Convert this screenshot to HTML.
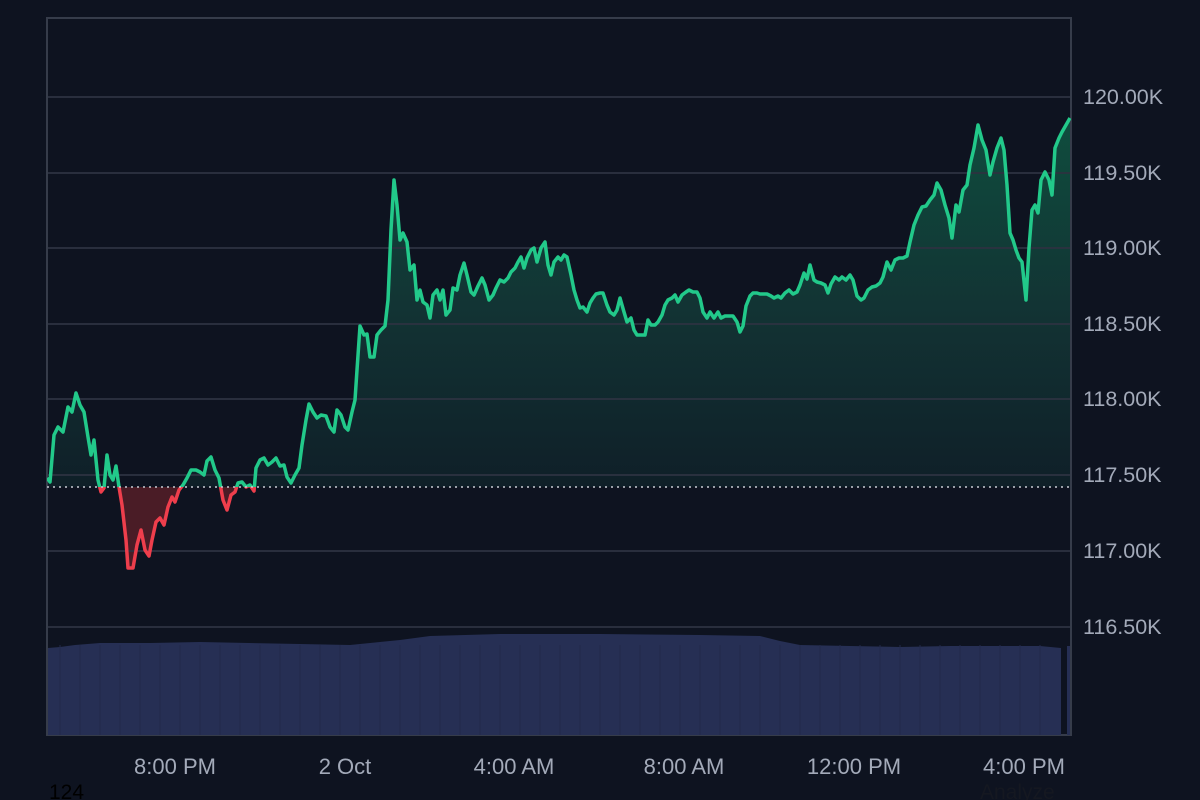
<!DOCTYPE html>
<html><head><meta charset="utf-8"><style>
html,body{margin:0;padding:0;background:#0e1320;width:1200px;height:800px;overflow:hidden}
svg{display:block}
text{font-family:"Liberation Sans",sans-serif}
</style></head><body>
<svg width="1200" height="800" viewBox="0 0 1200 800">
<defs>
<linearGradient id="gg" x1="0" y1="118" x2="0" y2="487" gradientUnits="userSpaceOnUse">
<stop offset="0" stop-color="#0f4d3e"/>
<stop offset="0.55" stop-color="#123233"/>
<stop offset="1" stop-color="#0f1f28"/>
</linearGradient>
<clipPath id="above"><rect x="47" y="0" width="1024" height="487"/></clipPath>
<clipPath id="below"><rect x="47" y="487" width="1024" height="250"/></clipPath>
</defs>
<rect width="1200" height="800" fill="#0e1320"/>
<g id="series">
<polygon id="area" points="47,487 47,478 50,482 54,435 58,427 63,432 68,407 72,412 76,393 80,405 84,412 88,437 91,455 94,440 98,480 101,492 104,488 107,455 110,475 113,480 116,466 119,487 122,505 126,540 128,568 133,568 137,545 141,530 145,550 149,556 152,540 156,522 160,518 164,525 168,507 172,497 175,502 179,490 183,485 187,478 191,470 196,470 200,472 204,475 207,461 211,457 215,470 219,478 223,500 227,510 231,495 235,492 238,483 242,482 246,487 250,485 254,491 256,468 260,460 264,458 268,465 272,462 276,458 280,466 284,465 287,477 291,483 295,475 299,468 302,445 306,420 309,404 313,412 317,418 321,415 326,416 330,427 334,432 337,410 341,415 345,427 348,430 352,412 355,400 357,370 360,326 364,335 367,334 370,357 374,357 377,335 381,330 385,326 388,300 391,230 394,180 397,205 400,240 403,233 407,242 410,270 414,265 417,300 420,290 423,302 427,305 430,318 433,295 437,290 440,300 443,290 446,315 450,310 453,288 457,290 460,275 464,263 467,275 471,292 474,295 478,286 482,278 485,285 489,300 493,295 496,288 500,280 504,282 508,278 511,272 515,268 518,262 521,257 524,268 527,258 531,250 534,248 537,262 541,248 545,242 548,265 551,275 554,262 558,257 561,260 564,255 567,257 571,275 574,290 577,300 580,308 583,307 587,312 590,303 593,298 596,294 600,293 603,293 607,305 610,312 614,315 617,310 620,298 624,312 627,322 631,318 634,330 637,335 641,335 645,335 648,320 651,325 655,325 658,322 662,315 665,305 668,300 672,298 675,295 678,302 682,295 686,292 689,290 693,292 697,292 700,298 703,312 707,318 710,312 714,318 718,312 721,318 725,316 729,316 733,316 737,322 740,332 743,326 746,306 750,296 753,293 757,293 760,294 764,294 767,294 771,296 774,298 778,296 781,298 785,293 789,290 793,294 797,292 800,285 804,273 807,279 810,265 814,280 817,282 821,283 825,285 828,293 831,284 835,277 839,280 842,277 846,280 850,275 853,280 857,296 861,300 864,298 868,290 872,287 876,286 880,283 883,277 887,262 891,270 895,260 899,258 903,258 907,256 910,242 914,225 918,215 922,207 926,206 930,200 934,195 937,183 941,190 945,205 949,218 952,238 956,205 959,212 963,190 967,185 970,165 974,148 978,125 982,140 986,150 990,175 993,162 997,148 1001,138 1004,150 1007,185 1010,233 1013,240 1016,250 1019,258 1022,262 1026,300 1029,248 1032,210 1035,205 1038,213 1041,180 1045,172 1049,180 1052,195 1055,148 1059,138 1062,132 1066,125 1070,118 1070,487"/>
</g>
<use href="#area" fill="url(#gg)" clip-path="url(#above)"/>
<use href="#area" fill="#4a1c26" clip-path="url(#below)"/>
<g stroke="#2c3240" stroke-width="2" stroke-opacity="0.9">
<line x1="47" y1="97" x2="1071" y2="97"/>
<line x1="47" y1="173" x2="1071" y2="173"/>
<line x1="47" y1="248" x2="1071" y2="248"/>
<line x1="47" y1="324" x2="1071" y2="324"/>
<line x1="47" y1="399" x2="1071" y2="399"/>
<line x1="47" y1="475" x2="1071" y2="475"/>
<line x1="47" y1="551" x2="1071" y2="551"/>
<line x1="47" y1="627" x2="1071" y2="627"/>
</g>
<rect x="47" y="18" width="1024" height="717" fill="none" stroke="#363c4a" stroke-width="2"/>
<polygon fill="#262f54" points="48,735 48,648 60,647 75,645 100,643 150,643 200,642 300,644 350,645 380,642 400,640 430,636 500,634 600,634 700,635 760,636 780,641 800,645 850,646 900,647 950,646 1000,646 1040,646 1061,648 1061,735"/>
<rect x="1067" y="646" width="3" height="89" fill="#262f54"/>
<g stroke="#222a4a" stroke-width="1">
<path d="M60 645V735M80 645V735M100 645V735M120 645V735M140 645V735M160 645V735M180 645V735M200 645V735M220 645V735M240 645V735M260 645V735M280 645V735M300 645V735M320 645V735M340 645V735M360 645V735M380 645V735M400 645V735M420 645V735M440 645V735M460 645V735M480 645V735M500 645V735M520 645V735M540 645V735M560 645V735M580 645V735M600 645V735M620 645V735M640 645V735M660 645V735M680 645V735M700 645V735M720 645V735M740 645V735M760 645V735M780 645V735M800 645V735M820 645V735M840 645V735M860 645V735M880 645V735M900 645V735M920 645V735M940 645V735M960 645V735M980 645V735M1000 645V735M1020 645V735M1040 645V735"/>
</g>
<polyline id="line" fill="none" stroke-width="3.5" stroke-linejoin="round" points="47,478 50,482 54,435 58,427 63,432 68,407 72,412 76,393 80,405 84,412 88,437 91,455 94,440 98,480 101,492 104,488 107,455 110,475 113,480 116,466 119,487 122,505 126,540 128,568 133,568 137,545 141,530 145,550 149,556 152,540 156,522 160,518 164,525 168,507 172,497 175,502 179,490 183,485 187,478 191,470 196,470 200,472 204,475 207,461 211,457 215,470 219,478 223,500 227,510 231,495 235,492 238,483 242,482 246,487 250,485 254,491 256,468 260,460 264,458 268,465 272,462 276,458 280,466 284,465 287,477 291,483 295,475 299,468 302,445 306,420 309,404 313,412 317,418 321,415 326,416 330,427 334,432 337,410 341,415 345,427 348,430 352,412 355,400 357,370 360,326 364,335 367,334 370,357 374,357 377,335 381,330 385,326 388,300 391,230 394,180 397,205 400,240 403,233 407,242 410,270 414,265 417,300 420,290 423,302 427,305 430,318 433,295 437,290 440,300 443,290 446,315 450,310 453,288 457,290 460,275 464,263 467,275 471,292 474,295 478,286 482,278 485,285 489,300 493,295 496,288 500,280 504,282 508,278 511,272 515,268 518,262 521,257 524,268 527,258 531,250 534,248 537,262 541,248 545,242 548,265 551,275 554,262 558,257 561,260 564,255 567,257 571,275 574,290 577,300 580,308 583,307 587,312 590,303 593,298 596,294 600,293 603,293 607,305 610,312 614,315 617,310 620,298 624,312 627,322 631,318 634,330 637,335 641,335 645,335 648,320 651,325 655,325 658,322 662,315 665,305 668,300 672,298 675,295 678,302 682,295 686,292 689,290 693,292 697,292 700,298 703,312 707,318 710,312 714,318 718,312 721,318 725,316 729,316 733,316 737,322 740,332 743,326 746,306 750,296 753,293 757,293 760,294 764,294 767,294 771,296 774,298 778,296 781,298 785,293 789,290 793,294 797,292 800,285 804,273 807,279 810,265 814,280 817,282 821,283 825,285 828,293 831,284 835,277 839,280 842,277 846,280 850,275 853,280 857,296 861,300 864,298 868,290 872,287 876,286 880,283 883,277 887,262 891,270 895,260 899,258 903,258 907,256 910,242 914,225 918,215 922,207 926,206 930,200 934,195 937,183 941,190 945,205 949,218 952,238 956,205 959,212 963,190 967,185 970,165 974,148 978,125 982,140 986,150 990,175 993,162 997,148 1001,138 1004,150 1007,185 1010,233 1013,240 1016,250 1019,258 1022,262 1026,300 1029,248 1032,210 1035,205 1038,213 1041,180 1045,172 1049,180 1052,195 1055,148 1059,138 1062,132 1066,125 1070,118"/>
<use href="#line" stroke="#22c98a" clip-path="url(#above)"/>
<use href="#line" stroke="#ee3e4c" clip-path="url(#below)"/>
<line x1="47" y1="487" x2="1071" y2="487" stroke="#c8ccd4" stroke-width="1.5" stroke-dasharray="2,4"/>
<g fill="#a3aab9" font-size="21.5">
<text x="1083" y="104">120.00K</text>
<text x="1083" y="180">119.50K</text>
<text x="1083" y="255">119.00K</text>
<text x="1083" y="331">118.50K</text>
<text x="1083" y="406">118.00K</text>
<text x="1083" y="482">117.50K</text>
<text x="1083" y="558">117.00K</text>
<text x="1083" y="634">116.50K</text>
</g>
<g fill="#a3aab9" font-size="22" text-anchor="middle">
<text x="175" y="774">8:00 PM</text>
<text x="345" y="774">2 Oct</text>
<text x="514" y="774">4:00 AM</text>
<text x="684" y="774">8:00 AM</text>
<text x="854" y="774">12:00 PM</text>
<text x="1024" y="774">4:00 PM</text>
</g>
<text x="49" y="799" font-size="21" fill="#000">124</text>
<text x="980" y="799" font-size="21" fill="#151821">Analyze</text>
</svg>
</body></html>
